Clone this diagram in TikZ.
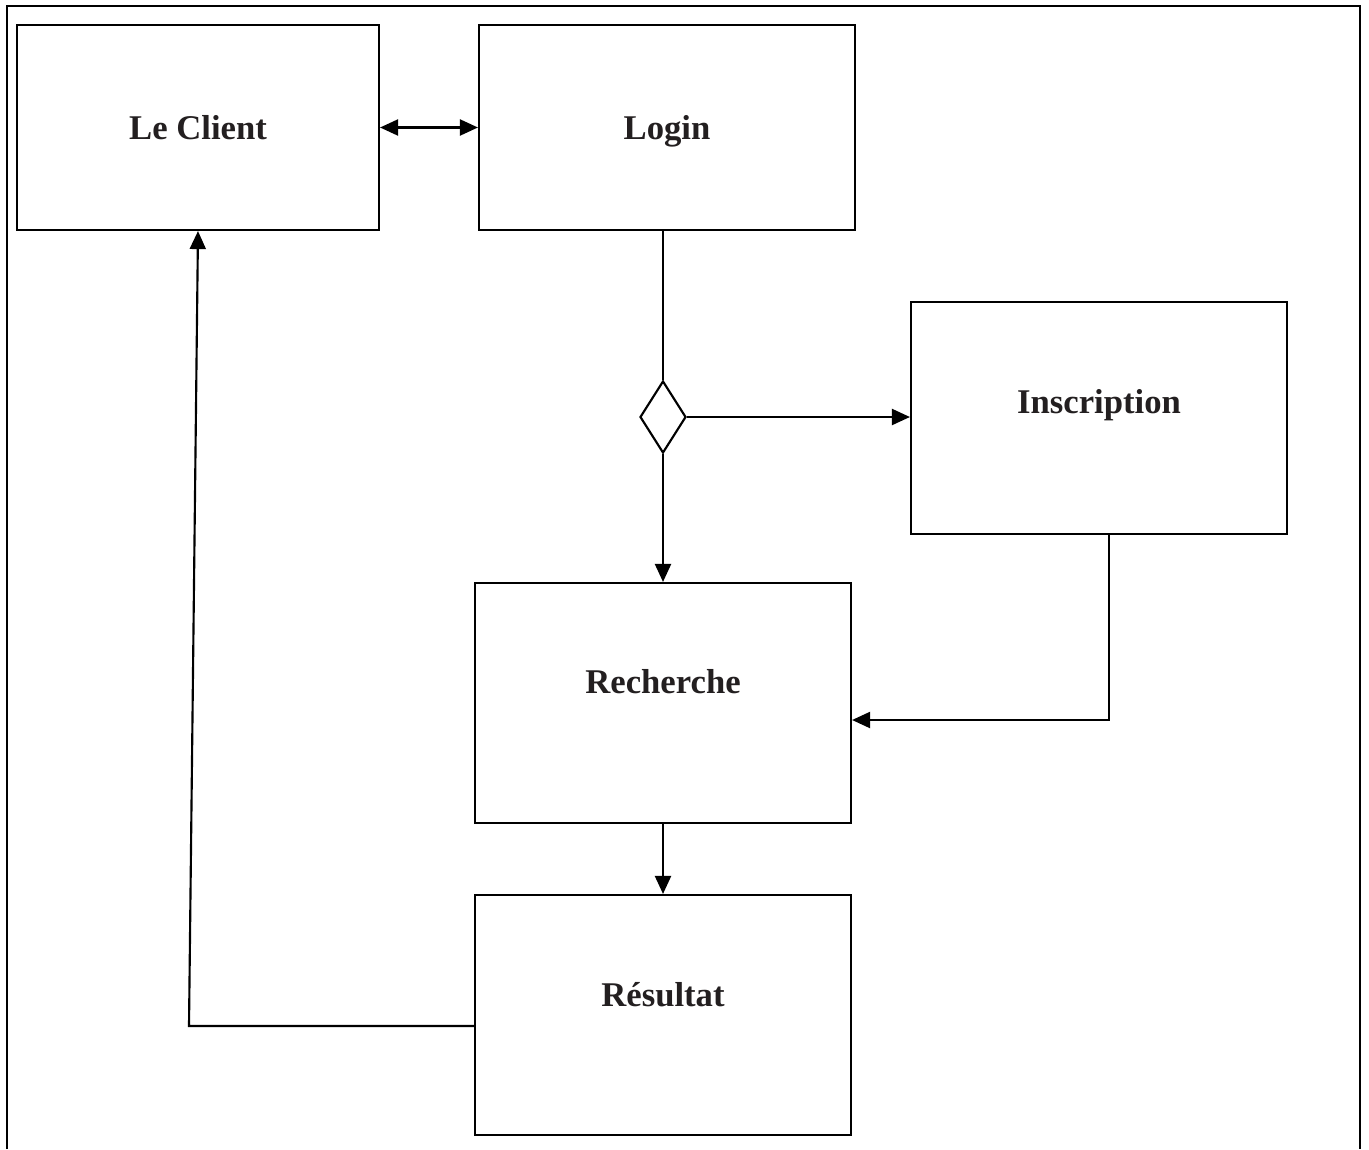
\documentclass[tikz,border=0pt]{standalone}
\usepackage{fontspec}
\setmainfont{Liberation Serif}
\usetikzlibrary{shapes.geometric,arrows.meta,calc}
\definecolor{ink}{HTML}{231F20}
\begin{document}
\begin{tikzpicture}[x=0.75pt,y=-0.75pt,
  tip/.tip={Triangle[length=13.5pt,width=12pt]},
  box/.style={draw, line width=1.6pt, minimum width=282pt, inner sep=0pt},
  lbl/.style={text=ink, font=\fontsize{26}{31}\selectfont\bfseries, inner sep=0pt, anchor=base},
  link/.style={line width=1.6pt},
  arr/.style={link, -tip},
  dec/.style={draw, shape=diamond, line width=1.6pt, inner sep=0pt, minimum width=34.5pt, minimum height=54pt}]
  \useasboundingbox (0,0) rectangle (1369,1149);

  % open outer frame
  \draw[line width=2pt] (7,1149) -- (7,6) -- (1360,6) -- (1360,1149);

  % boxes
  \node[box, minimum width=271.5pt, minimum height=153.75pt] (cli) at (198,127.5) {};
  \node[box, minimum height=153.75pt] (log) at (667,127.5) {};
  \node[box, minimum height=174pt] (ins) at (1099,418) {};
  \node[box, minimum height=180pt] (rec) at (663,703) {};
  \node[box, minimum height=180pt] (res) at (663,1015) {};
  \node[dec] (dia) at (663,417) {};

  % labels, placed on their baselines
  \node[lbl] (tcli) at ($(cli.center)+(0,11.5)$) {Le Client};
  \node[lbl] (tlog) at ($(log.center)+(0,11.5)$) {Login};
  \node[lbl] (tins) at ($(ins.center)+(0,-5)$) {Inscription};
  \node[lbl] (trec) at ($(rec.center)+(0,-10)$) {Recherche};
  \node[lbl] (tres) at ($(res.center)+(0,-9)$) {Résultat};

  % bends of the routed connectors
  \coordinate (j) at (1109,720);
  \coordinate (k) at (189,1026);

  % connectors
  \draw[link, tip-tip] (cli.east) -- (log.west);
  \draw[link] (dia.north |- log.south) -- (dia.north);
  \draw[arr] (dia.east) -- (ins.west |- dia.east);
  \draw[arr] (dia.south) -- (rec.north);
  \draw[arr] (ins.south -| j) -- (j) -- (rec.east |- j);
  \draw[arr] (rec.south) -- (res.north);
  \draw[arr] (res.west |- k) -- (k) -- (cli.south);
\end{tikzpicture}
\end{document}
